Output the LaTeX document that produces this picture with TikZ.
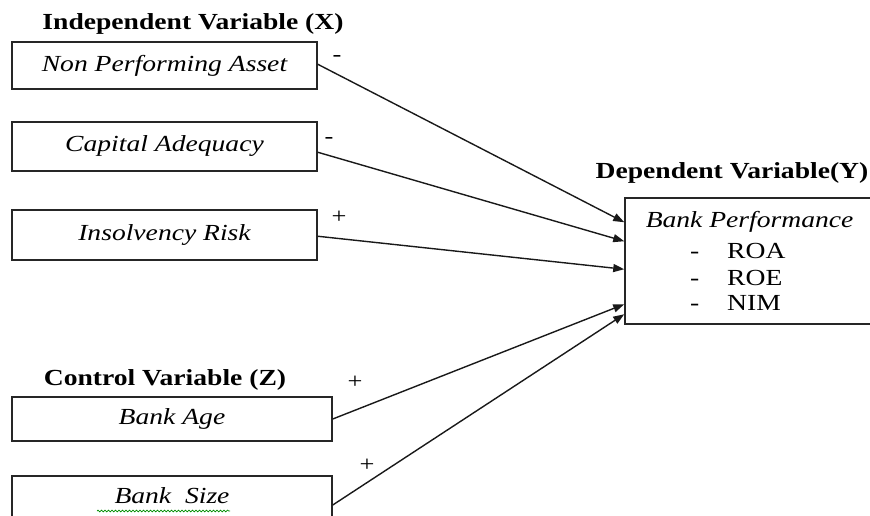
\documentclass[tikz,border=0pt]{standalone}
\usepackage{fontspec}
\setmainfont[FakeStretch=1.2]{Liberation Serif}
\usetikzlibrary{arrows.meta,decorations.pathmorphing,calc}
\begin{document}
\begin{tikzpicture}[x=1pt,y=-1pt,
  box/.style={draw=black!85, line width=1.5pt, rectangle, inner sep=0pt,
    font=\fontsize{23}{27}\selectfont\itshape},
  ttl/.style={font=\fontsize{23}{27}\selectfont\bfseries, inner sep=0pt},
  sgn/.style={font=\fontsize{22}{26}\selectfont, inner sep=0pt, anchor=base},
  itm/.style={font=\fontsize{23}{27}\selectfont, inner sep=0pt, anchor=base west},
  conn/.style={line width=1.4pt, draw=black!90, -{Triangle[length=11pt,width=8pt]}}
]
\useasboundingbox (0,0) rectangle (870,516);
\clip (0,0) rectangle (870,516);

% titles
\node[ttl] (tx) at (193,24) {Independent Variable (X)};
\node[ttl] (ty) at (732,173) {Dependent Variable(Y)};
\node[ttl] (tz) at (165,380) {Control Variable (Z)};

% independent boxes
\node[box, minimum width=305, minimum height=47] (npa) at (164.5,65.5) {Non Performing Asset};
\node[box, minimum width=305, minimum height=49] (ca) at (164.5,146.5) {Capital Adequacy};
\node[box, minimum width=305, minimum height=50] (ir) at (164.5,235) {Insolvency Risk};

% control boxes
\node[box, minimum width=320, minimum height=44] (ba) at (172,419) {Bank Age};
\node[box, minimum width=320, minimum height=58,
  label={[box, draw=none, yshift=9]center:{Bank\ \ Size}}] (bs) at (172,505) {};

% dependent box
\node[box, minimum width=250, minimum height=126] (dv) at (750,261) {};
\node[box, draw=none, anchor=west] (bp) at (645,222) {Bank Performance};
\node[itm] (d1) at (690,258) {-};
\node[itm] (roa) at (727,258) {ROA};
\node[itm] (d2) at (690,285) {-};
\node[itm] (roe) at (727,285) {ROE};
\node[itm] (d3) at (690,310) {-};
\node[itm] (nim) at (727,310) {NIM};

% spell-check squiggle
\draw[green!55!black, line width=0.7pt, decorate,
  decoration={snake, amplitude=0.9pt, segment length=3.5pt}] (97,511) -- (230,511);

% target points
\coordinate (e1) at ($(dv.north west)+(0,25)$);
\coordinate (e2) at ($(dv.north west)+(0,44)$);
\coordinate (e3) at ($(dv.north west)+(0,72)$);
\coordinate (e4) at ($(dv.north west)+(0,107)$);
\coordinate (e5) at ($(dv.north west)+(0,117)$);

% connectors
\draw[conn] ($(npa.north east)+(0,23)$) -- (e1);
\draw[conn] ($(ca.north east)+(0,31)$) -- (e2);
\draw[conn] ($(ir.north east)+(0,27)$) -- (e3);
\draw[conn] (ba.east) -- (e4);
\draw[conn] (bs.east) -- (e5);

% signs
\node[sgn] (s1) at (337,62) {-};
\node[sgn] (s2) at (329,144) {-};
\node[sgn] (s3) at (339,223) {+};
\node[sgn] (s4) at (355,388) {+};
\node[sgn] (s5) at (367,471) {+};
\end{tikzpicture}
\end{document}
